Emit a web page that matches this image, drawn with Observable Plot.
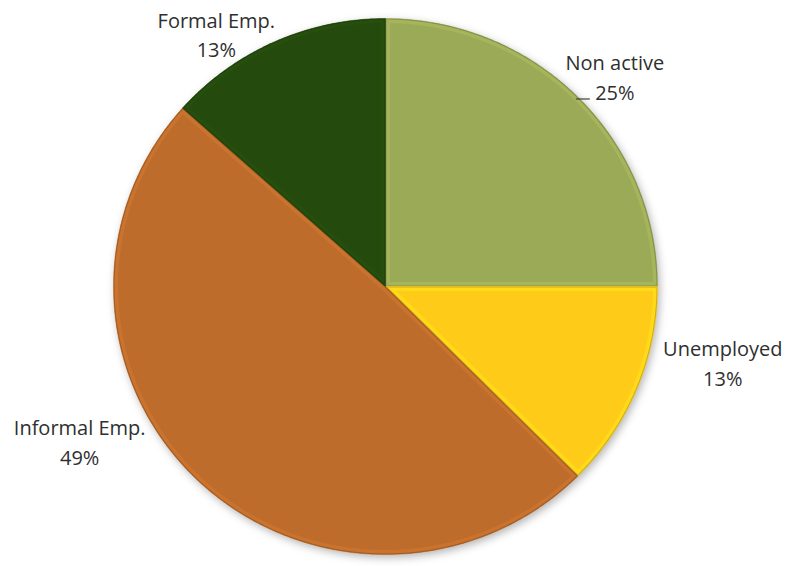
<!DOCTYPE html>
<html><head><meta charset="utf-8">
<script src="https://cdn.jsdelivr.net/npm/d3@7"></script>
<script src="https://cdn.jsdelivr.net/npm/@observablehq/plot@0.6"></script>
<style>body{margin:0;background:#fff} #chart{width:791px;height:566px}</style>
</head><body><div id="chart"></div>
<script>
const categories = ["Non active", "Unemployed", "Informal Emp.", "Formal Emp."];
// shares (labels show rounded percentages)
const shares = [25, 12.5, 49.1, 13.4];
const sliceColors = ["#9BAA56", "#FECC18", "#BE6C2B", "#244A0D"];

// layout
const W = 791, H = 566, cx = 385, cy = 286, rx = 272, ry = 268;
// label nudges (pixels) from the slice edge at mid-angle
const labelNudge = {
  "Non active": [37, -22],
  "Unemployed": [86, -28],
  "Informal Emp.": [-119, -41],
  "Formal Emp.": [-58, -9]
};

const rows = categories.map((c, i) => ({cat: c, share: shares[i], color: sliceColors[i]}));
const arcs = d3.pie().sort(null).value(d => d.share)(rows);

function slicePoints(s) {
  const out = [{x: 0, y: 0}];
  const n = Math.max(2, Math.ceil((s.endAngle - s.startAngle) / (Math.PI / 360)));
  for (let k = 0; k <= n; k++) {
    const a = s.startAngle + (s.endAngle - s.startAngle) * k / n;
    out.push({x: Math.sin(a), y: Math.cos(a)});
  }
  out.push({x: 0, y: 0});
  return out;
}
const circle = d3.range(0, 721).map(k => ({x: Math.sin(k * Math.PI / 360), y: Math.cos(k * Math.PI / 360)}));

const labels = arcs.map(s => {
  const m = (s.startAngle + s.endAngle) / 2;
  const [ndx, ndy] = labelNudge[s.data.cat];
  return {
    x: Math.sin(m) + ndx / rx,
    y: Math.cos(m) - ndy / ry,
    ex: Math.sin(m), ey: Math.cos(m),
    text: `${s.data.cat}\n${Math.round(s.data.share)}%`,
    cat: s.data.cat
  };
});
const leader = labels.filter(d => d.cat === "Non active");

const marks = [
  Plot.line(circle, {x: "x", y: "y", fill: "#000", fillOpacity: 0.3, stroke: "#000", strokeOpacity: 0, dx: 2, dy: 3}),
  ...arcs.map(s => Plot.line(slicePoints(s), {x: "x", y: "y", fill: s.data.color, stroke: s.data.color, strokeWidth: 0.5})),
  Plot.link(leader, {x1: d => d.ex, y1: d => d.ey, x2: d => d.ex + 14 / rx, y2: d => d.ey, stroke: "#404040", strokeWidth: 1.2, dx: -2, dy: 2}),
  Plot.text(labels, {x: "x", y: "y", text: "text", fontSize: 20, lineHeight: 1.5, fill: "#2f2f2f", lineAnchor: "middle", textAnchor: "middle"})
];

const svg = Plot.plot({
  width: W, height: H, margin: 0,
  style: {fontFamily: "'Open Sans', sans-serif", background: "#fff", overflow: "visible"},
  x: {domain: [-1, 1], range: [cx - rx, cx + rx], axis: null},
  y: {domain: [-1, 1], range: [cy + ry, cy - ry], axis: null},
  marks
});

// effects: soft shadow and bevel-like edges
const sel = d3.select(svg);
const defs = sel.insert("defs", ":first-child");
defs.append("filter").attr("id", "blur").attr("x", "-10%").attr("y", "-10%").attr("width", "120%").attr("height", "120%")
  .append("feGaussianBlur").attr("stdDeviation", 4);
const lineGroups = sel.selectAll('g[aria-label="line"]').nodes();
d3.select(lineGroups[0]).attr("filter", "url(#blur)");
lineGroups.slice(1, 5).forEach((node, i) => {
  const g = d3.select(node);
  const d = g.select("path").attr("d");
  const base = d3.color(sliceColors[i]);
  const id = "clip" + i;
  defs.append("clipPath").attr("id", id).append("path").attr("d", d);
  g.append("path").attr("d", d).attr("fill", "none")
    .attr("stroke", base.brighter(0.5).formatHex()).attr("stroke-width", 9).attr("stroke-opacity", 0.35)
    .attr("stroke-linejoin", "round").attr("clip-path", `url(#${id})`);
  g.append("path").attr("d", d).attr("fill", "none")
    .attr("stroke", base.darker(0.8).formatHex()).attr("stroke-width", 2).attr("stroke-opacity", 0.7)
    .attr("stroke-linejoin", "round").attr("clip-path", `url(#${id})`);
});
document.getElementById("chart").appendChild(svg);
</script>
</body></html>
